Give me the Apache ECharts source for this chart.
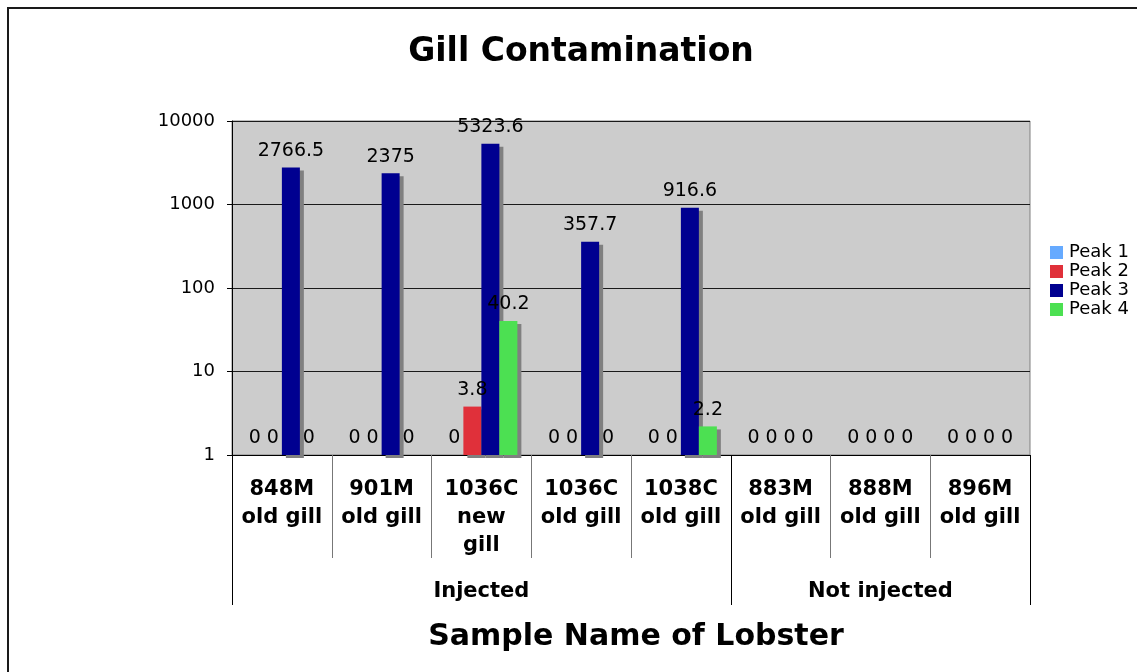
<!DOCTYPE html>
<html>
<head>
<meta charset="utf-8">
<title>Gill Contamination</title>
<script src="https://cdn.jsdelivr.net/npm/echarts@6/dist/echarts.min.js"></script>
<style>
html,body{margin:0;padding:0;background:#fff;overflow:hidden;}
#frame{position:absolute;left:7px;top:7px;width:1300px;height:900px;border:2px solid #1a1a1a;}
#main{position:absolute;left:0;top:0;width:1137px;height:672px;}
</style>
</head>
<body>
<div id="frame"></div>
<div id="main"></div>
<script>
// sample names (first level) and groups (second level)
var samples = ['848M\nold gill', '901M\nold gill', '1036C\nnew\ngill', '1036C\nold gill',
               '1038C\nold gill', '883M\nold gill', '888M\nold gill', '896M\nold gill'];
var groups = ['Injected', 'Not injected'];
var groupSizes = [5, 3];
var yTicks = [1, 10, 100, 1000, 10000];

var peakNames = ['Peak 1', 'Peak 2', 'Peak 3', 'Peak 4'];
var peak1 = [0, 0, 0, 0, 0, 0, 0, 0];
var peak2 = [0, 0, 3.8, 0, 0, 0, 0, 0];
var peak3 = [2766.5, 2375, 5323.6, 357.7, 916.6, 0, 0, 0];
var peak4 = [0, 0, 40.2, 0, 2.2, 0, 0, 0];
var peakColors = ['#66aaff', '#e0303a', '#000090', '#4ce052'];

var font = 'DejaVu Sans';
var peakData = [peak1, peak2, peak3, peak4];

// where the group labels and group separators go
var groupLabelAt = {}, groupStarts = [], start = 0;
for (var g = 0; g < groups.length; g++) {
    groupLabelAt[start + Math.floor((groupSizes[g] - 1) / 2)] = groups[g];
    groupStarts.push(start);
    start += groupSizes[g];
}

var series = peakNames.map(function (name, i) {
    return {
        name: name,
        type: 'bar',
        xAxisIndex: 0,
        barWidth: 18,
        barGap: '0%',
        // zeros sit on the log baseline (1)
        data: peakData[i].map(function (v) { return v > 0 ? v : yTicks[0]; }),
        itemStyle: {
            color: peakColors[i],
            shadowColor: '#808080',
            shadowOffsetX: 4,
            shadowOffsetY: 3,
            shadowBlur: 0
        },
        label: {
            show: true,
            position: 'top',
            distance: 7,
            color: '#000',
            fontFamily: font,
            fontSize: 19,
            formatter: function (p) { return String(peakData[i][p.dataIndex]); }
        },
        emphasis: {disabled: true}
    };
});

var myChart = echarts.init(document.getElementById('main'));
var option = {
    animation: false,
    title: [{
        text: 'Gill Contamination',
        left: 576,
        top: 31,
        textAlign: 'center',
        textStyle: {fontFamily: font, fontSize: 33, fontWeight: 'bold', color: '#000'}
    }, {
        text: 'Sample Name of Lobster',
        left: 631,
        top: 617,
        textAlign: 'center',
        textStyle: {fontFamily: font, fontSize: 30, fontWeight: 'bold', color: '#000'}
    }],
    legend: {
        orient: 'vertical',
        left: 1050,
        top: 243,
        padding: 0,
        icon: 'rect',
        itemWidth: 13,
        itemHeight: 13,
        itemGap: 0,
        data: peakNames,
        itemStyle: {shadowColor: 'rgba(0,0,0,0)', shadowOffsetX: 0, shadowOffsetY: 0, shadowBlur: 0},
        textStyle: {fontFamily: font, fontSize: 18, color: '#000', lineHeight: 19, padding: [0, 0, 0, 1]}
    },
    grid: {
        left: 232,
        right: 107,
        top: 121,
        bottom: 217,
        show: true,
        backgroundColor: '#cccccc',
        borderColor: '#808080',
        borderWidth: 1,
        outerBoundsMode: 'none'
    },
    xAxis: [{
        type: 'category',
        data: samples,
        position: 'bottom',
        axisLine: {show: true, lineStyle: {color: '#000'}},
        axisTick: {show: true, length: 103, lineStyle: {color: '#777'}},
        axisLabel: {interval: 0, color: '#000', fontFamily: font, fontSize: 21, fontWeight: 'bold', lineHeight: 28, margin: 21}
    }, {
        type: 'category',
        data: samples,
        position: 'bottom',
        offset: 0,
        axisLine: {show: false},
        axisTick: {
            show: true,
            length: 150,
            interval: function (index) { return groupStarts.indexOf(index) >= 0; },
            lineStyle: {color: '#000'}
        },
        axisLabel: {
            interval: 0,
            margin: 126,
            color: '#000',
            fontFamily: font,
            fontSize: 21,
            fontWeight: 'bold',
            lineHeight: 21,
            formatter: function (v, idx) { return groupLabelAt[idx] || ''; }
        }
    }],
    yAxis: {
        type: 'log',
        logBase: 10,
        min: yTicks[0],
        max: yTicks[yTicks.length - 1],
        axisLine: {show: true, lineStyle: {color: '#000'}},
        axisTick: {show: true, length: 5, lineStyle: {color: '#000'}},
        axisLabel: {
            color: '#000', fontFamily: font, fontSize: 18, margin: 17,
            formatter: function (v) { return String(Math.round(v)); }
        },
        splitLine: {show: true, lineStyle: {color: '#1a1a1a'}}
    },
    series: series
};
myChart.setOption(option);
</script>
</body>
</html>
